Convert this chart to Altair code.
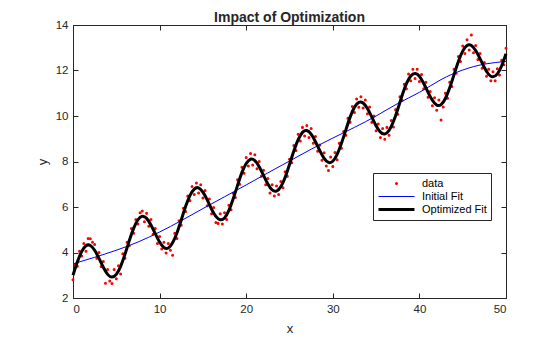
import altair as alt
import numpy as np
import pandas as pd

# ---- values ----
data_y = [
    2.80, 3.45, 3.40, 4.05, 3.85, 4.40, 4.05, 4.62,
    4.60, 4.45, 4.35, 3.75, 4.00, 3.38, 3.60, 2.65,
    3.25, 2.75, 2.64, 3.25, 2.85, 3.42, 3.05, 3.95,
    3.75, 4.45, 4.30, 5.05, 4.85, 5.45, 5.25, 5.75,
    5.82, 5.35, 5.72, 5.15, 5.45, 4.80, 5.05, 4.40,
    4.70, 4.15, 4.45, 3.98, 4.40, 4.10, 3.88, 4.85,
    4.62, 5.40, 5.20, 5.95, 5.80, 6.48, 6.28, 6.90,
    6.55, 7.05, 6.62, 6.98, 6.40, 6.72, 6.05, 6.35,
    5.70, 5.98, 5.32, 5.28, 5.70, 5.25, 5.75, 5.45,
    6.08, 5.88, 6.60, 6.42, 7.20, 7.00, 7.75, 7.48,
    8.18, 7.80, 8.35, 7.85, 8.30, 7.68, 8.00, 7.35,
    7.62, 6.98, 7.25, 6.62, 6.98, 6.48, 6.92, 6.55,
    7.12, 6.85, 7.55, 7.35, 8.10, 7.95, 8.70, 8.48,
    9.20, 8.90, 9.50, 9.12, 9.58, 9.05, 9.45, 8.80,
    9.10, 8.45, 8.72, 8.05, 8.38, 7.80, 7.60, 8.20,
    7.78, 8.40, 8.08, 8.80, 8.58, 9.32, 9.15, 9.90,
    9.72, 10.42, 10.15, 10.75, 10.38, 10.85, 10.35, 10.70,
    10.10, 10.40, 9.72, 10.00, 9.35, 9.65, 9.05, 9.45,
    8.98, 9.50, 9.15, 9.80, 9.52, 10.28, 10.08, 10.85,
    10.68, 11.40, 11.20, 11.85, 11.55, 12.05, 11.65, 12.05,
    11.52, 11.82, 11.20, 11.48, 10.82, 11.08, 10.45, 10.80,
    10.25, 10.70, 9.82, 10.40, 11.00, 10.78, 11.48, 11.30,
    12.05, 11.88, 12.62, 12.40, 13.08, 12.75, 13.35, 12.90,
    13.56, 12.78, 13.10, 12.48, 12.75, 12.10, 12.35, 11.75,
    12.05, 11.55, 11.95, 11.55, 12.08, 11.80, 12.45, 12.25,
    12.98,
]

optimized_fit = [
    3.00, 3.58, 4.04, 4.30, 4.31, 4.10, 3.74, 3.35, 3.04, 2.92,
    3.04, 3.39, 3.92, 4.52, 5.06, 5.44, 5.59, 5.50, 5.21, 4.83,
    4.46, 4.22, 4.20, 4.43, 4.86, 5.43, 6.02, 6.50, 6.79, 6.84,
    6.65, 6.31, 5.91, 5.59, 5.44, 5.52, 5.85, 6.36, 6.95, 7.51,
    7.91, 8.10, 8.04, 7.77, 7.39, 7.01, 6.75, 6.70, 6.89, 7.31,
    7.87, 8.46, 8.96, 9.28, 9.36, 9.20, 8.87, 8.48, 8.14, 7.96,
    8.01, 8.31, 8.80, 9.38, 9.95, 10.38, 10.60, 10.57, 10.33, 9.96,
    9.57, 9.29, 9.21, 9.37, 9.76, 10.30, 10.90, 11.42, 11.76, 11.87,
    11.75, 11.43, 11.04, 10.69, 10.48, 10.50, 10.77, 11.24, 11.82, 12.40,
    12.85, 13.10, 13.10, 12.88, 12.52, 12.13, 11.83, 11.72, 11.85, 12.21,
    12.74,
]

initial_fit = [
    3.50, 3.79, 4.10, 4.46, 4.90, 5.40, 5.93, 6.45, 6.97, 7.50, 8.02,
    8.54, 9.03, 9.50, 10.00, 10.55, 11.04, 11.60, 12.02, 12.28, 12.40,
]

series_names = ["data", "Initial Fit", "Optimized Fit"]
series_colors = ["#ff0000", "#0000ff", "#000000"]
x_ticks = [0, 10, 20, 30, 40, 50]
y_ticks = [2, 4, 6, 8, 10, 12, 14]

df_pts = pd.DataFrame({"x": np.linspace(0, 50, len(data_y)), "y": data_y, "series": "data"})
df_init = pd.DataFrame({"x": np.linspace(0, 50, len(initial_fit)), "y": initial_fit, "series": "Initial Fit"})
df_opt = pd.DataFrame({"x": np.linspace(0, 50, len(optimized_fit)), "y": optimized_fit, "series": "Optimized Fit"})

FONT = "Liberation Sans"
TXT = "#262626"

xscale = alt.Scale(domain=[0, 50], nice=False, zero=False)
yscale = alt.Scale(domain=[2, 14], nice=False, zero=False)

axis_common = dict(
    grid=False, domain=False, tickSize=5, offset=-5, tickColor=TXT, tickWidth=1,
    labelFont=FONT, labelFontSize=11.5, labelColor=TXT,
    titleFont=FONT, titleFontSize=13, titleFontWeight="normal", titleColor=TXT,
)

leg = alt.Legend(
    title=None, orient="none", legendX=300, legendY=148, padding=4,
    strokeColor=TXT, fillColor="white", cornerRadius=0, clipHeight=13,
    rowPadding=0, labelOffset=6, labelFont=FONT, labelFontSize=11,
    labelColor="#000000", symbolOffset=0,
)

points = alt.Chart(df_pts).mark_point(filled=False, opacity=1).encode(
    x=alt.X("x:Q", scale=xscale, axis=alt.Axis(values=x_ticks, title="x", labelPadding=5, titlePadding=8, **axis_common)),
    y=alt.Y("y:Q", scale=yscale, axis=alt.Axis(values=y_ticks, title="y", labelPadding=5, titlePadding=6, **axis_common)),
    color=alt.Color("series:N", scale=alt.Scale(domain=series_names, range=series_colors), legend=leg),
    shape=alt.Shape("series:N", scale=alt.Scale(domain=series_names, range=["circle", "stroke", "stroke"]), legend=leg),
    size=alt.Size("series:N", scale=alt.Scale(type="ordinal", domain=series_names, range=[2, 1296, 1296]), legend=leg),
    strokeWidth=alt.StrokeWidth("series:N", scale=alt.Scale(type="ordinal", domain=series_names, range=[1.6, 1, 3]), legend=leg),
)

init_line = alt.Chart(df_init).mark_line(color="#0000ff", strokeWidth=1, interpolate="natural").encode(
    x=alt.X("x:Q", scale=xscale, axis=alt.Axis(orient="top", values=x_ticks, labels=False, title=None, **axis_common)),
    y=alt.Y("y:Q", scale=yscale, axis=alt.Axis(orient="right", values=y_ticks, labels=False, title=None, **axis_common)),
)

opt_line = alt.Chart(df_opt).mark_line(color="#000000", strokeWidth=3, interpolate="natural").encode(
    x=alt.X("x:Q", scale=xscale, axis=None),
    y=alt.Y("y:Q", scale=yscale, axis=None),
)

chart = alt.layer(points, init_line, opt_line).resolve_axis(
    x="independent", y="independent"
).properties(
    width=433, height=273,
    autosize=alt.AutoSizeParams(type="none"),
    padding={"left": 73, "top": 25, "right": 54, "bottom": 39},
    background="white",
    title=alt.Title("Impact of Optimization", font=FONT, fontSize=14, fontWeight="bold", color=TXT, offset=-6, anchor="middle"),
).configure_view(stroke=TXT, strokeWidth=1)

chart.save("out.html", embed_options={"renderer": "svg", "actions": False})
